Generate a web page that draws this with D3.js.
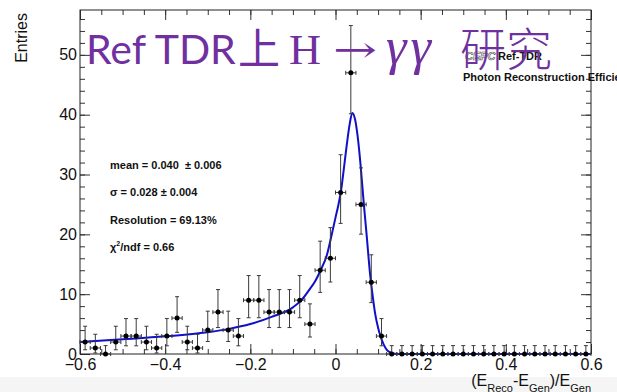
<!DOCTYPE html>
<html><head><meta charset="utf-8">
<script src="https://cdn.jsdelivr.net/npm/d3@7/dist/d3.min.js"></script>
<style>html,body{margin:0;padding:0;background:#fff;overflow:hidden}</style>
</head><body>
<svg id="c" width="617" height="392"></svg>
<script>
// ---- data ----
const binLow = -0.6, binHigh = 0.6, binCount = 50;
const counts = [2,1,0,2,3,3,2,1,3,6,2,1,4,7,4,3,9,9,7,7,7,9,5,14,16,27,47,25,12,3,
                0,0,0,0,0,0,0,0,0,0,0,0,0,0,0,0,0,0,0,0];
const errLow = [1.29,0.83,0,1.29,1.63,1.63,1.29,0.83,1.63,2.38,1.29,0.83,1.91,2.58,1.91,1.63,2.94,2.94,2.58,2.58,
                2.58,2.94,2.16,3.70,3.97,5.17,6.84,4.97,3.41,1.63,
                0,0,0,0,0,0,0,0,0,0,0,0,0,0,0,0,0,0,0,0];
const errHigh = [2.64,2.30,1.4,2.64,2.92,2.92,2.64,2.30,2.92,3.58,2.64,2.30,3.16,3.77,3.16,2.92,4.11,4.11,3.77,3.77,
                 3.77,4.11,3.38,4.86,5.12,6.31,7.90,6.11,4.58,2.92,
                 1.4,1.4,1.4,1.4,1.4,1.4,1.4,1.4,1.4,1.4,1.4,1.4,1.4,1.4,1.4,1.4,1.4,1.4,1.4,1.4];
const fitX = [-0.6,-0.5,-0.4,-0.3,-0.25,-0.2,-0.15,-0.1,-0.08,-0.06,-0.05,-0.035,-0.02,-0.01,0,0.007,0.013,0.02,0.026,0.033,
              0.0395,0.046,0.052,0.059,0.066,0.073,0.081,0.087,0.093,0.1,0.106,0.113,0.12,0.128,0.136,0.15,0.3,0.45,0.6];
const fitY = [2.0,2.45,2.95,3.65,4.2,5.0,6.2,7.8,9.0,10.9,11.9,14.0,16.6,19.6,22.8,25.0,27.3,31.2,34.7,38.3,
              40.3,39.2,36.4,31.5,25.5,20.0,13.5,9.9,6.8,4.4,2.9,1.6,0.75,0.3,0.1,0,0,0,0];
const xMajorTicks = [-0.6,-0.4,-0.2,0,0.2,0.4,0.6];
const yMajorTicks = [0,10,20,30,40,50];

// ---- layout ----
const L = 80, R = 591, T = 10, B = 354;
const svg = d3.select("#c");
const font = "'Liberation Sans', Arial, Helvetica, sans-serif";
svg.append("rect").attr("x",0).attr("y",0).attr("width",617).attr("height",392).attr("fill","#fff");
svg.append("rect").attr("x",0).attr("y",377).attr("width",617).attr("height",15).attr("fill","#f5f5f5");

const x = d3.scaleLinear().domain([binLow, binHigh]).range([L, R]);
const y = d3.scaleLinear().domain([0, 57.5]).range([B, T]);
const binW = (binHigh - binLow) / binCount;
const bins = counts.map((c, i) => ({c, lo: errLow[i], hi: errHigh[i], xc: binLow + binW * (i + 0.5)}));

// axes
const fmtX = d => d === 0 ? "0" : d3.format(".1f")(d);
const minorX = d3.range(-12, 13).map(k => k * 0.05);
const minorY = d3.range(0, 29).map(k => k * 2);
svg.append("g").attr("transform", `translate(0,${B})`)
  .call(d3.axisBottom(x).tickValues(xMajorTicks).tickSize(-10).tickSizeOuter(0).tickPadding(5).tickFormat(fmtX));
svg.append("g").attr("transform", `translate(0,${B})`)
  .call(d3.axisBottom(x).tickValues(minorX).tickSize(-5).tickSizeOuter(0).tickFormat(""));
svg.append("g").attr("transform", `translate(0,${T})`)
  .call(d3.axisTop(x).tickValues(xMajorTicks).tickSize(-10).tickSizeOuter(0).tickFormat(""));
svg.append("g").attr("transform", `translate(0,${T})`)
  .call(d3.axisTop(x).tickValues(minorX).tickSize(-5).tickSizeOuter(0).tickFormat(""));

svg.append("g").attr("transform", `translate(${L},0)`)
  .call(d3.axisLeft(y).tickValues(yMajorTicks).tickSize(-10).tickSizeOuter(0).tickPadding(3).tickFormat(d3.format("d")));
svg.append("g").attr("transform", `translate(${L},0)`)
  .call(d3.axisLeft(y).tickValues(minorY).tickSize(-5).tickSizeOuter(0).tickFormat(""));
svg.append("g").attr("transform", `translate(${R},0)`)
  .call(d3.axisRight(y).tickValues(yMajorTicks).tickSize(-10).tickSizeOuter(0).tickFormat(""));
svg.append("g").attr("transform", `translate(${R},0)`)
  .call(d3.axisRight(y).tickValues(minorY).tickSize(-5).tickSizeOuter(0).tickFormat(""));

svg.selectAll(".domain").remove();
svg.selectAll(".tick line").attr("stroke", "#333");
svg.selectAll(".tick text").attr("font-family", font).attr("font-size", 16).attr("fill", "#111");

svg.append("rect").attr("x", L).attr("y", T).attr("width", R - L).attr("height", B - T)
  .attr("fill", "none").attr("stroke", "#222").attr("stroke-width", 1);

// axis titles
svg.append("text").attr("transform", `translate(27,13) rotate(-90)`).attr("text-anchor", "end")
  .attr("font-family", font).attr("font-size", 16).attr("fill", "#111").text("Entries");
const xt = svg.append("text").attr("x", R).attr("y", 386).attr("text-anchor", "end")
  .attr("font-family", font).attr("font-size", 16).attr("fill", "#111");
xt.append("tspan").text("(E");
xt.append("tspan").attr("font-size", 11).attr("dy", 6).text("Reco");
xt.append("tspan").attr("dy", -6).text("-E");
xt.append("tspan").attr("font-size", 11).attr("dy", 6).text("Gen");
xt.append("tspan").attr("dy", -6).text(")/E");
xt.append("tspan").attr("font-size", 11).attr("dy", 6).text("Gen");

// data: error bars + markers
svg.append("clipPath").attr("id", "pc").append("rect").attr("x", L).attr("y", T).attr("width", R - L).attr("height", B - T + 4);
const gd = svg.append("g");
const ec = "#3a3a3a";
bins.forEach(b => {
  const cx = x(b.xc), cy = y(b.c);
  const x0 = x(b.xc - binW / 2), x1 = x(b.xc + binW / 2);
  gd.append("line").attr("x1", x0).attr("x2", x1).attr("y1", cy).attr("y2", cy).attr("stroke", ec);
  gd.append("line").attr("x1", x0).attr("x2", x0).attr("y1", cy - 2).attr("y2", cy + 2).attr("stroke", ec);
  gd.append("line").attr("x1", x1).attr("x2", x1).attr("y1", cy - 2).attr("y2", cy + 2).attr("stroke", ec);
  const yt = y(b.c + b.hi), yb = y(b.c - b.lo);
  gd.append("line").attr("x1", cx).attr("x2", cx).attr("y1", yt).attr("y2", yb).attr("stroke", ec);
  gd.append("line").attr("x1", cx - 2).attr("x2", cx + 2).attr("y1", yt).attr("y2", yt).attr("stroke", ec);
  if (b.lo > 0) gd.append("line").attr("x1", cx - 2).attr("x2", cx + 2).attr("y1", yb).attr("y2", yb).attr("stroke", ec);
});

// fit curve
const line = d3.line().x((d, i) => x(fitX[i])).y((d, i) => y(fitY[i])).curve(d3.curveMonotoneX);
svg.append("path").datum(fitX).attr("d", line).attr("fill", "none").attr("stroke", "#1010c8")
  .attr("stroke-width", 2).attr("clip-path", "url(#pc)");

gd.selectAll("circle").data(bins).join("circle")
  .attr("cx", d => x(d.xc)).attr("cy", d => y(d.c)).attr("r", 2.5).attr("fill", "#000");
svg.node().appendChild(gd.node());

// stats text
const st = (yy) => svg.append("text").attr("x", 110).attr("y", yy).attr("font-family", font)
    .attr("font-size", 11).attr("font-weight", "bold").attr("fill", "#111").attr("xml:space", "preserve");
st(169).text("mean = 0.040  \u00b1 0.006");
st(196).text("\u03c3 = 0.028 \u00b1 0.004");
st(224).text("Resolution = 69.13%");
const chi = st(251);
chi.append("tspan").text("\u03c7");
chi.append("tspan").attr("font-size", 7).attr("dy", -5).text("2");
chi.append("tspan").attr("dy", 5).text("/ndf = 0.66");

// CEPC labels
svg.append("text").attr("x", 465).attr("y", 60).attr("font-family", font).attr("font-size", 11)
  .attr("font-style", "italic").attr("font-weight", "bold").attr("fill", "none").attr("stroke", "#444").attr("stroke-width", 0.6).text("CEPC");
svg.append("text").attr("x", 498).attr("y", 60).attr("font-family", font).attr("font-size", 11)
  .attr("font-weight", "bold").attr("fill", "#111").text("Ref-TDR");
svg.append("text").attr("x", 463).attr("y", 81).attr("font-family", font).attr("font-size", 11)
  .attr("font-weight", "bold").attr("fill", "#111").text("Photon Reconstruction Efficiency");

// purple title overlay
const purple = "#7030a0";
const tg = svg.append("g").attr("fill", purple);
tg.append("text").attr("x", 86).attr("y", 64).attr("font-family", "Lato, 'Noto Sans', sans-serif").attr("font-size", 41).text("Ref TDR");
tg.append("text").attr("x", 238).attr("y", 64).attr("font-family", "'Noto Sans CJK SC', sans-serif").attr("font-size", 42).text("上");
tg.append("text").attr("x", 289).attr("y", 64).attr("font-family", "'Liberation Serif', serif").attr("font-size", 42)
  .attr("textLength", 32).attr("lengthAdjust", "spacingAndGlyphs").text("H");
tg.append("text").attr("x", 333).attr("y", 62).attr("font-family", "'DejaVu Serif', serif").attr("font-size", 36)
  .attr("textLength", 44).attr("lengthAdjust", "spacingAndGlyphs").text("\u2192");
tg.append("text").attr("x", 386).attr("y", 64).attr("font-family", "'Liberation Serif', serif").attr("font-style", "italic").attr("font-size", 52)
  .attr("letter-spacing", 4).text("\u03b3\u03b3");
tg.append("text").attr("x", 460).attr("y", 66).attr("font-family", "'Noto Sans CJK SC', sans-serif").attr("font-weight", 300).attr("font-size", 46).text("研究");
</script>
</body></html>
